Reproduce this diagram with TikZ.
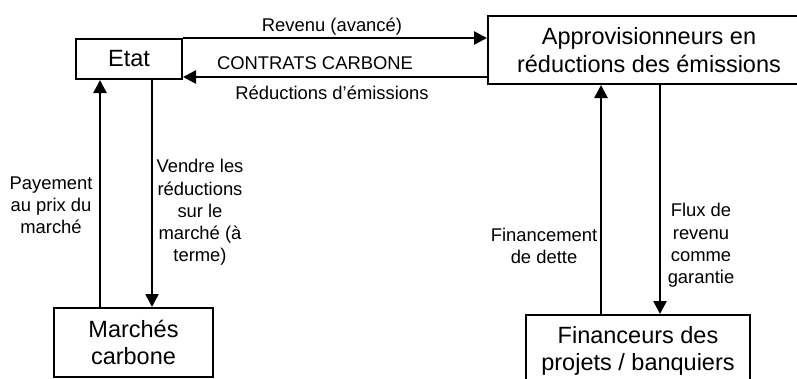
\documentclass[tikz,border=0pt]{standalone}
\usepackage{fontspec}
\setmainfont{Liberation Sans}
\usetikzlibrary{arrows.meta}
\begin{document}
\begin{tikzpicture}[x=1pt,y=-1pt,
  box/.style={draw=black,line width=2pt,fill=white,inner sep=0pt,align=center,
    font=\fontsize{23.5}{27.5}\selectfont},
  arr/.style={line width=2.6pt,-{Triangle[length=13pt,width=13pt]}},
  lbl/.style={inner sep=0pt,align=center,font=\fontsize{18.4}{22.2}\selectfont}]
\useasboundingbox (0,0) rectangle (797,378);
\node[box,minimum width=106pt,minimum height=40pt] (etat) at (129,59) {Etat};
\node[box,minimum width=322pt,minimum height=68pt] (appro) at (649,50) {Approvisionneurs en\\réductions des émissions};
\node[box,minimum width=159pt,minimum height=69pt] (marches) at (133.5,342.5) {Marchés\\carbone};
\node[box,minimum width=224pt,minimum height=72pt] (fin) at (638,351) {Financeurs des\\projets / banquiers};
% horizontal arrows
\coordinate (t1) at (182,39);
\coordinate (t2) at (488,39);
\coordinate (b1) at (488,77);
\coordinate (b2) at (182,77);
\draw[arr] (etat.north east) -- (etat.north east -| appro.west);
\draw[arr] (b1 -| appro.west) -- (b2 -| etat.east);
\node[lbl] (l1) at (332,27) {Revenu (avancé)};
\node[lbl] (l2) at (315,63) {CONTRATS CARBONE};
\node[lbl] (l3) at (332,93) {Réductions d’émissions};
% left vertical arrows
\coordinate (x1) at (100,0);
\coordinate (x2) at (152,0);
\draw[arr] (x1 |- marches.north) -- (x1 |- etat.south);
\draw[arr] (x2 |- etat.south) -- (x2 |- marches.north);
\node[lbl] (l4) at (51,205) {Payement\\au prix du\\marché};
\node[lbl] (l5) at (200,212.5) {Vendre les\\réductions\\sur le\\marché (à\\terme)};
% right vertical arrows
\coordinate (x3) at (601,0);
\coordinate (x4) at (660,0);
\draw[arr] (x3 |- fin.north) -- (x3 |- appro.south);
\draw[arr] (x4 |- appro.south) -- (x4 |- fin.north);
\node[lbl] (l6) at (544,246) {Financement\\de dette};
\node[lbl] (l7) at (701,245.5) {Flux de\\revenu\\comme\\garantie};
\end{tikzpicture}
\end{document}
